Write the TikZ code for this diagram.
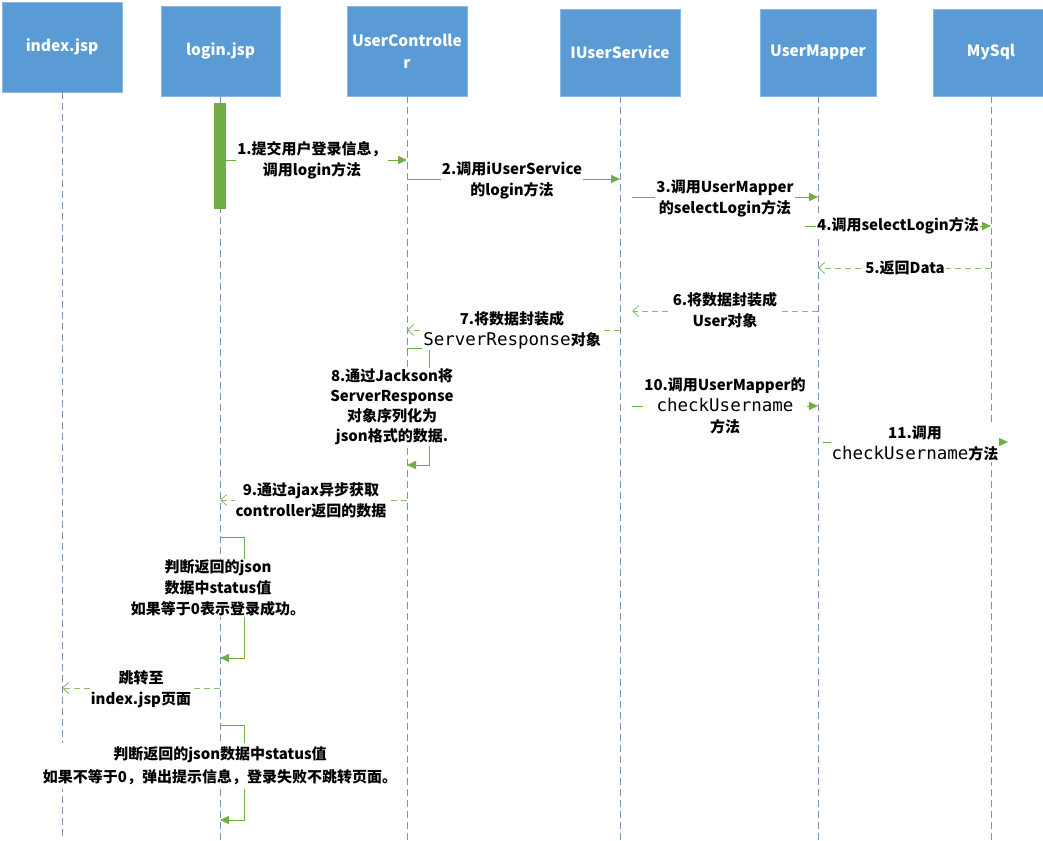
\documentclass[tikz,border=0pt]{standalone}
\usepackage{fontspec}
\setmainfont{Noto Sans CJK SC}
\newfontfamily\monof{DejaVu Sans Mono}
\usetikzlibrary{arrows.meta}
\definecolor{hdrblue}{RGB}{91,155,213}
\definecolor{hdredge}{RGB}{140,185,228}
\definecolor{grn}{RGB}{112,173,71}
\definecolor{grnret}{RGB}{140,190,110}
\definecolor{lifec}{RGB}{120,150,180}
\newcommand{\mono}[1]{{\monof\fontsize{17.5}{21}\selectfont\mdseries #1}}
\begin{document}
\begin{tikzpicture}[x=1pt,y=-1pt,
  actor/.style={draw=hdredge, line width=0.6pt, fill=hdrblue, text=white,
    font=\fontsize{15.5}{22}\selectfont\bfseries, align=center, inner sep=0pt},
  life/.style={draw=lifec, line width=0.8pt, dash pattern=on 7pt off 4pt},
  call/.style={draw=grn, line width=1pt, -{Triangle[length=9pt,width=8pt]}},
  ret/.style={draw=grnret, line width=0.9pt, dash pattern=on 6pt off 4pt,
    -{Straight Barb[length=6pt,width=11pt]}},
  lbl/.style={fill=white, inner sep=1pt, align=center,
    font=\fontsize{15}{21}\selectfont\bfseries},
]
\useasboundingbox (0,0) rectangle (1043,840);
\coordinate (bottom) at (0,840);

% participants
\node[actor, minimum width=120pt, minimum height=90pt] (index) at (62,47) {index.jsp};
\node[actor, minimum width=119pt, minimum height=90pt] (login) at (220.5,51) {login.jsp};
\node[actor, minimum width=120pt, minimum height=90pt] (ctrl) at (407,51) {UserControlle\\r};
\node[actor, minimum width=120pt, minimum height=87pt] (svc) at (620,52.5) {IUserService};
\node[actor, minimum width=116pt, minimum height=87pt] (mapper) at (818,52.5) {UserMapper};
\node[actor, minimum width=116pt, minimum height=87pt] (mysql) at (991,52.5) {MySql};

% lifelines
\foreach \p in {index,login,ctrl,svc,mapper,mysql}
  \draw[life] (\p.south) -- (\p.south |- bottom);

% activation of login.jsp
\node[fill=grn, minimum width=12pt, minimum height=106pt, inner sep=0pt] (bar) at (220,156) {};

% calls and returns
\draw[call] (bar.east |- 0,160) -- (407,160);
\draw[call] (407,179) -- (620,179);
\draw[call] (632,197) -- (818,197);
\draw[call] (805,226) -- (991,226);
\draw[ret]  (991,268) -- (818,268);
\draw[ret]  (818,311) -- (632,311);
\draw[ret]  (620,330) -- (407,330);
\draw[call] (407,348) -- (429,348) -- (429,465) -- (407,465);
\draw[call] (632,406) -- (818,406);
\draw[call] (823,442) -- (1008,442);
\draw[ret]  (407,500) -- (220,500);
\draw[call] (220,537) -- (244,537) -- (244,658) -- (220,658);
\draw[ret]  (220,688) -- (62,688);
\draw[call] (220,725) -- (244,725) -- (244,820) -- (220,820);

% message texts
\node[lbl] (t1) at (312,160.5) {1.提交用户登录信息，\\调用login方法};
\node[lbl] (t2) at (512,180) {2.调用iUserService\\的login方法};
\node[lbl] (t3) at (725,198) {3.调用UserMapper\\的selectLogin方法};
\node[lbl] (t4) at (898,226) {4.调用selectLogin方法};
\node[lbl] (t5) at (905,268) {5.返回Data};
\node[lbl] (t6) at (725,310) {6.将数据封装成\\User对象};
\node[lbl] (t7) at (512,330) {7.将数据封装成\\\mono{ServerResponse}对象};
\node[lbl, font=\fontsize{15}{20}\selectfont\bfseries] (t8) at (392,407)
  {8.通过Jackson将\\ServerResponse\\对象序列化为\\json格式的数据.};
\node[lbl] (t9) at (311,500) {9.通过ajax异步获取\\controller返回的数据};
\node[lbl] (t10) at (725,406) {10.调用UserMapper的\\\mono{checkUsername}\\方法};
\node[lbl] (t11) at (915,443) {11.调用\\\mono{checkUsername}方法};
\node[lbl] (t12) at (218,588) {判断返回的json\\数据中status值\\如果等于0表示登录成功。};
\node[lbl] (t13) at (141,689) {跳转至\\index.jsp页面};
\node[lbl, inner sep=4pt, font=\fontsize{15}{23}\selectfont\bfseries] (t14) at (220,766)
  {判断返回的json数据中status值\\如果不等于0，弹出提示信息，登录失败不跳转页面。};
\end{tikzpicture}
\end{document}
